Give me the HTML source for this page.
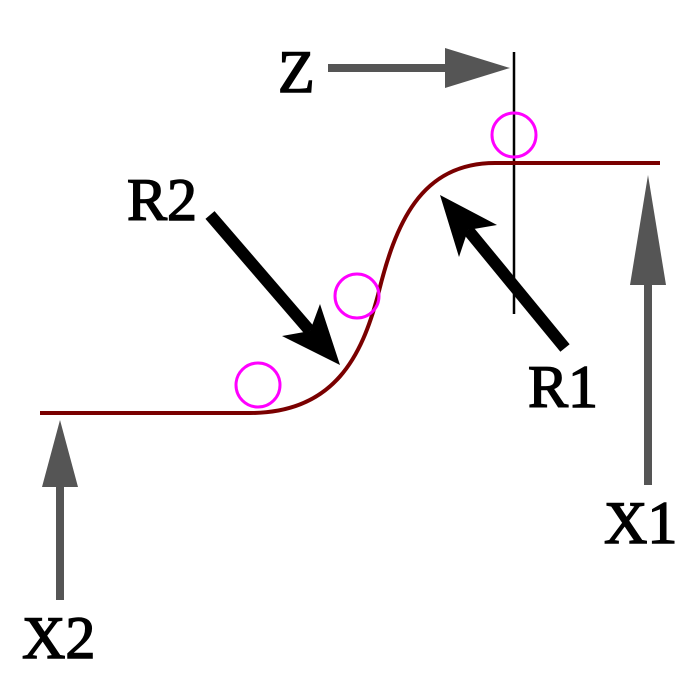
<!DOCTYPE html>
<html><head><style>html,body{margin:0;padding:0;background:#fff}svg{display:block}</style></head>
<body>
<svg width="700" height="700" viewBox="0 0 700 700" xmlns="http://www.w3.org/2000/svg">
<rect width="700" height="700" fill="#fff"/>
<line x1="514" y1="52" x2="514" y2="314" stroke="#000" stroke-width="2.5"/>
<path d="M40,413 L250,413 C335,413 362,355 378,295 C395,225 420,163 495,163 L660,163" fill="none" stroke="#7a0000" stroke-width="4"/>
<g fill="none" stroke="#ff00ff" stroke-width="3">
<circle cx="514" cy="135" r="22"/>
<circle cx="357" cy="296" r="22"/>
<circle cx="258" cy="385" r="22"/>
</g>
<line x1="328" y1="68" x2="450" y2="68" stroke="#555" stroke-width="8"/>
<polygon points="445,48 510,68 445,88" fill="#555"/>
<line x1="648" y1="485" x2="648" y2="280" stroke="#555" stroke-width="8"/>
<polygon points="630,285 648,175 666,285" fill="#555"/>
<line x1="60" y1="600" x2="60" y2="480" stroke="#555" stroke-width="8"/>
<polygon points="42,487 60,420 78,487" fill="#555"/>
<line x1="210" y1="215" x2="310" y2="331" stroke="#000" stroke-width="12"/>
<polygon points="282,336 340,365 320,304 310,331" fill="#000"/>
<line x1="565" y1="348" x2="468" y2="230" stroke="#000" stroke-width="12"/>
<polygon points="497,225 440,195 459,257 468,230" fill="#000"/>
<g font-family="Liberation Serif, serif" font-size="60" fill="#000" stroke="#000" stroke-width="1.5">
<text x="278" y="92">Z</text>
<text x="127" y="220">R2</text>
<text x="528" y="407">R1</text>
<text x="604" y="543">X1</text>
<text x="22" y="658">X2</text>
</g>
</svg>
</body></html>
